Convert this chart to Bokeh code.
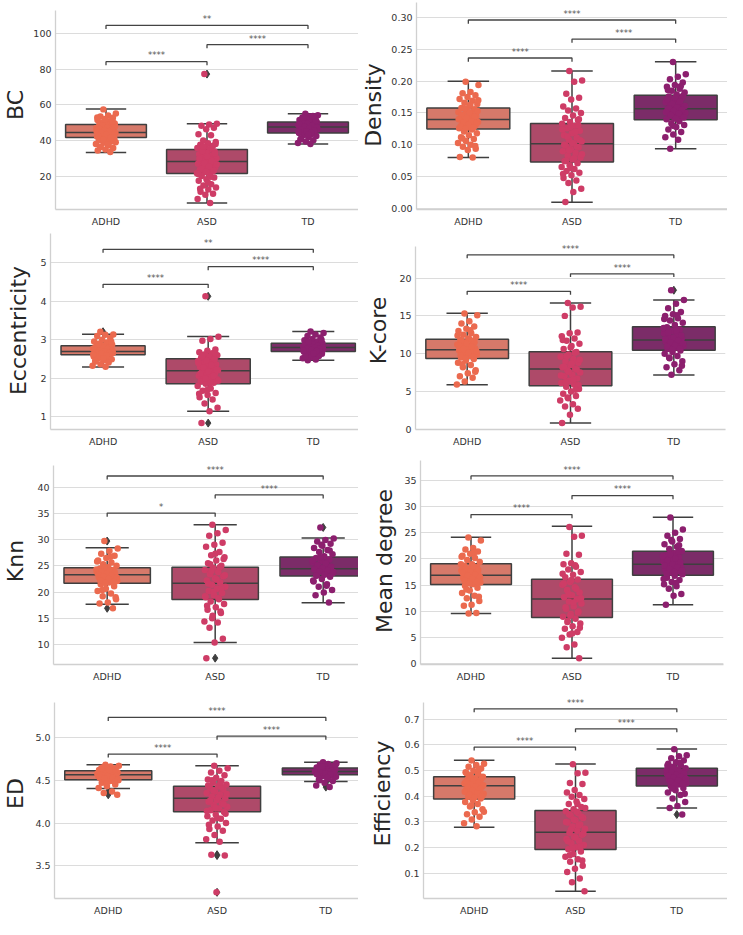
from bokeh.plotting import figure
from bokeh.layouts import row, column
from bokeh.models import FixedTicker, PrintfTickFormatter, Range1d
from bokeh.embed import file_html
from bokeh.resources import INLINE
from bokeh.core.properties import value

# ---------------- data ----------------
GROUPS = ["ADHD", "ASD", "TD"]

# box statistics per group: [lower whisker, Q1, median, Q3, upper whisker]
BC_BOX = [[33.3, 41.7, 44.5, 49.0, 57.7], [5.0, 21.5, 28.2, 35.0, 49.5], [38.0, 44.3, 47.6, 50.4, 55.1]]
BC_ADHD = [57.5, 55.2, 54.0, 53.5, 52.8, 52.1, 51.5, 50.9, 50.2, 49.6, 49.1, 48.7, 48.2, 47.6, 47.1, 46.7, 46.2, 45.8, 45.4, 45.0, 44.7, 44.5, 44.2, 43.8, 43.4, 43.0, 42.7, 42.3, 42.0, 41.7, 41.3, 40.8, 40.2, 39.5, 38.8, 38.0, 37.2, 36.5, 35.8, 35.0, 34.4, 33.6,
           48.5, 47.9, 47.3, 46.5, 46.0, 45.6, 45.2, 44.9, 44.3, 43.6, 43.2, 42.5, 41.9, 40.5, 39.0, 37.8, 36.2, 50.5, 51.8, 53.0]
BC_ASD = [77.3, 49.4, 49.0, 48.3, 47.2, 46.4, 43.6, 43.0, 40.1, 39.2, 38.5, 37.6, 37.0, 36.4, 35.8, 35.2, 34.5, 33.8, 33.0, 32.3, 31.6, 30.8, 30.1, 29.5, 28.8, 28.2, 27.6, 27.0, 26.3, 25.7, 25.0, 24.3, 23.6, 22.9, 22.2, 21.6, 20.9, 20.1, 19.2, 18.3, 17.4, 15.5, 14.8, 13.6, 12.5, 11.2, 10.1, 9.6, 7.2, 5.0,
          34.0, 32.7, 31.2, 29.8, 28.5, 27.3, 26.7, 25.3, 24.0, 23.0, 22.5, 21.2, 19.7, 36.8, 38.0, 16.5, 13.0]
BC_TD = [55.0, 54.2, 53.5, 53.0, 52.5, 52.0, 51.6, 51.2, 50.8, 50.4, 50.1, 49.8, 49.5, 49.1, 48.8, 48.5, 48.1, 47.8, 47.5, 47.2, 46.9, 46.5, 46.2, 45.8, 45.4, 45.0, 44.6, 44.2, 43.7, 43.1, 42.5, 41.8, 41.0, 40.2, 39.4, 38.6, 38.0,
         50.6, 49.9, 49.3, 48.9, 48.3, 47.7, 47.3, 46.7, 46.0, 45.6, 45.2, 44.8, 44.4, 52.8, 51.4, 43.4, 40.6, 53.8]
BC_SIG = ["****", "****", "**"]
BC_TICKS = [20, 40, 60, 80, 100]

DENS_BOX = [[0.080, 0.125, 0.1397, 0.158, 0.1997], [0.0099, 0.073, 0.1017, 0.1335, 0.216], [0.0939, 0.1393, 0.1565, 0.1778, 0.2305]]
DENS_ADHD = [0.199, 0.194, 0.183, 0.181, 0.178, 0.175, 0.172, 0.169, 0.166, 0.164, 0.161, 0.158, 0.156, 0.154, 0.151, 0.149, 0.147, 0.145, 0.143, 0.141, 0.139, 0.138, 0.136, 0.134, 0.132, 0.130, 0.128, 0.126, 0.124, 0.121, 0.118, 0.115, 0.112, 0.109, 0.106, 0.103, 0.100, 0.097, 0.094, 0.092, 0.081, 0.080,
             0.157, 0.153, 0.150, 0.146, 0.144, 0.142, 0.140, 0.137, 0.135, 0.133, 0.131, 0.129, 0.127, 0.125, 0.170, 0.163, 0.110, 0.098]
DENS_ASD = [0.216, 0.201, 0.199, 0.180, 0.174, 0.171, 0.160, 0.157, 0.154, 0.150, 0.146, 0.142, 0.139, 0.136, 0.133, 0.130, 0.126, 0.122, 0.118, 0.115, 0.111, 0.108, 0.105, 0.102, 0.099, 0.096, 0.093, 0.090, 0.087, 0.083, 0.080, 0.077, 0.074, 0.071, 0.068, 0.065, 0.062, 0.059, 0.056, 0.052, 0.048, 0.044, 0.040, 0.031, 0.026, 0.010,
            0.131, 0.128, 0.124, 0.120, 0.113, 0.107, 0.103, 0.100, 0.097, 0.091, 0.085, 0.079, 0.075, 0.140, 0.063, 0.054]
DENS_TD = [0.230, 0.211, 0.207, 0.203, 0.198, 0.194, 0.191, 0.188, 0.185, 0.182, 0.179, 0.176, 0.173, 0.170, 0.167, 0.165, 0.162, 0.160, 0.158, 0.156, 0.154, 0.152, 0.150, 0.148, 0.146, 0.144, 0.142, 0.140, 0.137, 0.134, 0.131, 0.128, 0.124, 0.120, 0.116, 0.112, 0.108, 0.094,
           0.177, 0.174, 0.171, 0.168, 0.164, 0.161, 0.159, 0.157, 0.155, 0.153, 0.151, 0.149, 0.147, 0.143, 0.141, 0.186, 0.192, 0.130]
DENS_SIG = ["****", "****", "****"]
DENS_TICKS = [0.0, 0.05, 0.10, 0.15, 0.20, 0.25, 0.30]

ECC_BOX = [[2.293, 2.614, 2.70, 2.846, 3.146], [1.147, 1.864, 2.20, 2.51, 3.087], [2.47, 2.70, 2.80, 2.914, 3.22]]
ECC_ADHD = [3.21, 3.14, 3.13, 3.10, 3.05, 3.00, 2.96, 2.93, 2.90, 2.87, 2.85, 2.83, 2.81, 2.79, 2.77, 2.75, 2.74, 2.72, 2.71, 2.70, 2.69, 2.67, 2.66, 2.64, 2.63, 2.61, 2.59, 2.57, 2.55, 2.53, 2.50, 2.47, 2.44, 2.41, 2.37, 2.33, 2.30,
            2.84, 2.82, 2.80, 2.78, 2.76, 2.73, 2.72, 2.70, 2.68, 2.66, 2.65, 2.62, 2.60, 2.89, 2.95, 2.52, 2.45]
ECC_ASD = [4.13, 3.08, 3.02, 2.98, 2.75, 2.72, 2.68, 2.65, 2.62, 2.60, 2.57, 2.54, 2.51, 2.48, 2.45, 2.42, 2.39, 2.36, 2.33, 2.30, 2.27, 2.24, 2.21, 2.19, 2.16, 2.13, 2.10, 2.07, 2.04, 2.01, 1.98, 1.95, 1.92, 1.89, 1.86, 1.80, 1.74, 1.68, 1.62, 1.57, 1.51, 1.45, 1.35, 1.24, 1.15, 0.84,
           2.50, 2.46, 2.40, 2.35, 2.28, 2.22, 2.18, 2.12, 2.06, 2.00, 1.94, 1.88, 2.58, 2.66, 1.70, 1.60]
ECC_TD = [3.22, 3.18, 3.14, 3.10, 3.06, 3.02, 2.99, 2.96, 2.93, 2.91, 2.89, 2.87, 2.85, 2.84, 2.83, 2.82, 2.81, 2.80, 2.79, 2.78, 2.77, 2.76, 2.75, 2.74, 2.73, 2.72, 2.70, 2.69, 2.68, 2.66, 2.64, 2.62, 2.61, 2.58, 2.55, 2.52, 2.49, 2.47,
          2.90, 2.88, 2.86, 2.84, 2.82, 2.80, 2.79, 2.77, 2.76, 2.74, 2.72, 2.71, 2.95, 3.00, 2.65, 2.57]
ECC_SIG = ["****", "****", "**"]
ECC_TICKS = [1, 2, 3, 4, 5]

KCORE_BOX = [[5.87, 9.36, 10.5, 11.9, 15.36], [0.8, 5.73, 7.97, 10.24, 16.7], [7.17, 10.46, 11.8, 13.56, 17.1]]
KCORE_ADHD = [15.3, 15.1, 14.3, 14.0, 13.6, 13.3, 13.0, 12.7, 12.5, 12.2, 12.0, 11.8, 11.6, 11.4, 11.2, 11.0, 10.8, 10.7, 10.5, 10.4, 10.2, 10.0, 9.9, 9.7, 9.5, 9.3, 9.1, 8.8, 8.5, 8.2, 7.8, 7.4, 7.0, 6.8, 6.3, 5.9,
              11.9, 11.7, 11.5, 11.3, 11.1, 10.9, 10.6, 10.3, 10.1, 9.8, 9.6, 9.4, 12.4, 13.1, 8.6, 7.6]
KCORE_ASD = [16.7, 16.2, 16.1, 15.0, 12.8, 12.7, 12.3, 12.0, 11.7, 11.3, 11.0, 10.6, 10.2, 9.9, 9.6, 9.3, 9.0, 8.8, 8.5, 8.2, 8.0, 7.8, 7.5, 7.2, 7.0, 6.7, 6.4, 6.1, 5.9, 5.6, 5.3, 5.0, 4.7, 4.4, 4.1, 3.8, 3.3, 3.0, 2.7, 1.9, 0.8,
             10.1, 9.7, 9.2, 8.7, 8.3, 7.9, 7.6, 7.1, 6.6, 6.2, 5.8, 10.8, 11.8, 5.2, 4.2]
KCORE_TD = [18.4, 17.1, 16.6, 16.0, 15.5, 15.2, 15.0, 14.7, 14.4, 14.1, 13.8, 13.5, 13.2, 13.0, 12.7, 12.5, 12.2, 12.0, 11.8, 11.6, 11.4, 11.2, 11.0, 10.8, 10.6, 10.4, 10.2, 10.0, 9.7, 9.4, 9.0, 8.6, 8.2, 7.8, 7.2,
            13.4, 13.1, 12.8, 12.4, 12.1, 11.9, 11.7, 11.5, 11.3, 11.1, 10.9, 10.7, 10.5, 14.6, 15.1, 9.5, 8.4]
KCORE_SIG = ["****", "****", "****"]
KCORE_TICKS = [0, 5, 10, 15, 20]

KNN_BOX = [[17.69, 21.69, 23.27, 24.6, 28.43], [10.4, 18.58, 21.69, 24.74, 32.8], [17.94, 23.03, 24.42, 26.65, 30.27]]
KNN_ADHD = [29.7, 28.3, 27.8, 27.3, 26.9, 26.5, 26.0, 25.6, 25.3, 25.0, 24.7, 24.5, 24.2, 24.0, 23.8, 23.6, 23.4, 23.2, 23.0, 22.8, 22.6, 22.4, 22.1, 21.8, 21.5, 21.1, 20.6, 20.2, 19.7, 19.2, 18.6, 18.0, 17.8, 16.9,
            24.6, 24.3, 24.1, 23.9, 23.7, 23.5, 23.3, 23.1, 22.9, 22.7, 22.5, 22.2, 21.9, 21.7, 25.8, 26.7, 20.4, 19.0]
KNN_ASD = [32.8, 31.8, 31.2, 30.7, 29.4, 29.0, 28.6, 27.6, 27.0, 26.6, 26.0, 25.5, 25.0, 24.6, 24.2, 23.8, 23.4, 23.0, 22.6, 22.2, 21.8, 21.4, 21.0, 20.6, 20.2, 19.8, 19.4, 19.0, 18.6, 18.2, 17.7, 17.1, 16.6, 16.0, 15.5, 14.4, 14.2, 13.2, 11.1, 10.4, 7.4,
           24.7, 24.0, 23.2, 22.4, 21.6, 20.8, 20.0, 19.2, 18.8, 25.3, 26.3, 27.3, 17.4, 16.3, 15.0]
KNN_TD = [32.3, 30.2, 29.9, 29.6, 29.2, 28.8, 28.4, 28.0, 27.6, 27.2, 26.8, 26.5, 26.2, 25.9, 25.6, 25.3, 25.0, 24.8, 24.6, 24.4, 24.2, 24.0, 23.8, 23.5, 23.2, 22.9, 22.5, 22.0, 21.5, 21.0, 20.4, 19.9, 19.4, 18.0,
          26.6, 26.0, 25.5, 25.1, 24.7, 24.5, 24.3, 24.1, 23.9, 23.6, 23.3, 23.1, 27.9, 29.0, 22.2, 21.2]
KNN_SIG = ["*", "****", "****"]
KNN_TICKS = [10, 15, 20, 25, 30, 35, 40]

MDEG_BOX = [[9.6, 15.13, 16.87, 19.07, 24.13], [1.1, 8.87, 12.37, 16.12, 26.2], [11.3, 16.87, 19.0, 21.44, 27.94]]
MDEG_ADHD = [24.1, 23.5, 22.1, 21.8, 21.4, 21.0, 20.6, 20.2, 19.8, 19.4, 19.0, 18.7, 18.4, 18.1, 17.8, 17.5, 17.2, 16.9, 16.7, 16.4, 16.1, 15.8, 15.5, 15.2, 14.9, 14.5, 14.0, 13.5, 13.0, 12.5, 12.0, 11.3, 11.1, 9.7, 9.6,
             19.0, 18.6, 18.2, 17.9, 17.6, 17.3, 17.0, 16.8, 16.5, 16.2, 15.9, 15.6, 15.3, 20.4, 21.2, 14.2, 12.8]
MDEG_ASD = [26.1, 24.4, 24.2, 21.0, 20.8, 19.2, 19.0, 18.5, 18.0, 17.5, 17.0, 16.5, 16.1, 15.6, 15.1, 14.6, 14.1, 13.6, 13.1, 12.7, 12.3, 11.9, 11.5, 11.0, 10.5, 10.0, 9.5, 9.0, 8.6, 8.2, 7.7, 7.2, 6.7, 6.1, 5.6, 5.0, 3.7, 3.2, 1.1,
            16.0, 15.3, 14.3, 13.3, 12.5, 11.7, 10.8, 9.8, 9.2, 17.2, 18.8, 8.0, 6.9, 5.8]
MDEG_TD = [27.9, 25.6, 25.0, 24.4, 23.8, 23.3, 22.8, 22.3, 21.9, 21.5, 21.1, 20.7, 20.3, 19.9, 19.5, 19.2, 18.9, 18.6, 18.3, 18.0, 17.7, 17.4, 17.1, 16.8, 16.4, 16.0, 15.6, 15.2, 14.8, 14.3, 13.3, 13.0, 11.3,
           21.4, 20.9, 20.5, 20.1, 19.7, 19.3, 19.0, 18.7, 18.4, 18.1, 17.8, 17.5, 17.2, 22.6, 23.6, 16.2, 15.4]
MDEG_SIG = ["****", "****", "****"]
MDEG_TICKS = [0, 5, 10, 15, 20, 25, 30, 35]

ED_BOX = [[4.405, 4.505, 4.564, 4.61, 4.68], [3.769, 4.131, 4.291, 4.43, 4.67], [4.486, 4.564, 4.603, 4.642, 4.71]]
ED_ADHD = [4.68, 4.67, 4.66, 4.65, 4.64, 4.63, 4.62, 4.61, 4.60, 4.59, 4.59, 4.58, 4.57, 4.57, 4.56, 4.56, 4.55, 4.54, 4.54, 4.53, 4.52, 4.51, 4.50, 4.49, 4.47, 4.45, 4.43, 4.41, 4.37, 4.35, 4.33,
           4.61, 4.60, 4.59, 4.58, 4.58, 4.57, 4.56, 4.55, 4.55, 4.54, 4.53, 4.52, 4.51, 4.62, 4.64, 4.48, 4.46]
ED_ASD = [4.67, 4.64, 4.61, 4.59, 4.56, 4.53, 4.51, 4.49, 4.47, 4.45, 4.43, 4.41, 4.39, 4.37, 4.35, 4.33, 4.31, 4.29, 4.27, 4.25, 4.23, 4.21, 4.19, 4.17, 4.15, 4.13, 4.10, 4.08, 4.05, 4.03, 4.00, 3.96, 3.93, 3.91, 3.86, 3.81, 3.78, 3.63, 3.62, 3.19,
          4.44, 4.42, 4.38, 4.34, 4.30, 4.26, 4.22, 4.18, 4.14, 4.47, 4.50, 4.11, 4.06, 3.98]
ED_TD = [4.71, 4.70, 4.69, 4.68, 4.67, 4.66, 4.65, 4.64, 4.64, 4.63, 4.62, 4.62, 4.61, 4.61, 4.60, 4.60, 4.59, 4.58, 4.58, 4.57, 4.56, 4.55, 4.54, 4.52, 4.50, 4.49, 4.47, 4.44, 4.42,
         4.64, 4.63, 4.63, 4.62, 4.61, 4.61, 4.60, 4.60, 4.59, 4.59, 4.58, 4.57, 4.57, 4.66, 4.68, 4.53, 4.51]
ED_SIG = ["****", "****", "****"]
ED_TICKS = [3.5, 4.0, 4.5, 5.0]

EFF_BOX = [[0.2796, 0.390, 0.4416, 0.476, 0.541], [0.030, 0.193, 0.2605, 0.3446, 0.5257], [0.355, 0.440, 0.4798, 0.509, 0.584]]
EFF_ADHD = [0.540, 0.527, 0.522, 0.515, 0.508, 0.500, 0.494, 0.488, 0.482, 0.476, 0.470, 0.465, 0.460, 0.455, 0.450, 0.445, 0.441, 0.437, 0.432, 0.427, 0.422, 0.416, 0.410, 0.404, 0.398, 0.392, 0.386, 0.378, 0.370, 0.360, 0.350, 0.338, 0.330, 0.320, 0.310, 0.295, 0.283,
            0.475, 0.468, 0.462, 0.457, 0.452, 0.447, 0.443, 0.439, 0.434, 0.429, 0.424, 0.418, 0.412, 0.406, 0.400, 0.395, 0.490, 0.505, 0.365, 0.340]
EFF_ASD = [0.525, 0.492, 0.490, 0.452, 0.448, 0.425, 0.415, 0.405, 0.398, 0.390, 0.380, 0.370, 0.358, 0.350, 0.342, 0.334, 0.325, 0.316, 0.307, 0.298, 0.290, 0.282, 0.274, 0.266, 0.258, 0.250, 0.242, 0.234, 0.226, 0.218, 0.210, 0.202, 0.194, 0.185, 0.175, 0.165, 0.155, 0.145, 0.130, 0.118, 0.105, 0.080, 0.065, 0.030,
           0.340, 0.330, 0.320, 0.310, 0.300, 0.286, 0.270, 0.255, 0.240, 0.225, 0.205, 0.198, 0.355, 0.370, 0.170, 0.150]
EFF_TD = [0.583, 0.560, 0.556, 0.548, 0.540, 0.533, 0.527, 0.521, 0.515, 0.509, 0.504, 0.499, 0.494, 0.490, 0.486, 0.482, 0.478, 0.474, 0.470, 0.466, 0.461, 0.456, 0.451, 0.446, 0.440, 0.432, 0.424, 0.415, 0.405, 0.392, 0.378, 0.362, 0.355, 0.329,
          0.507, 0.502, 0.497, 0.492, 0.488, 0.484, 0.480, 0.476, 0.472, 0.468, 0.463, 0.458, 0.450, 0.444, 0.520, 0.530, 0.430, 0.410]
EFF_SIG = ["****", "****", "****"]
EFF_TICKS = [0.1, 0.2, 0.3, 0.4, 0.5, 0.6, 0.7]

PAIRS = [(0, 1), (1, 2), (0, 2)]

METRICS = [
    ("BC", [BC_ADHD, BC_ASD, BC_TD], BC_BOX, BC_SIG, BC_TICKS, "%d"),
    ("Density", [DENS_ADHD, DENS_ASD, DENS_TD], DENS_BOX, DENS_SIG, DENS_TICKS, "%.2f"),
    ("Eccentricity", [ECC_ADHD, ECC_ASD, ECC_TD], ECC_BOX, ECC_SIG, ECC_TICKS, "%d"),
    ("K-core", [KCORE_ADHD, KCORE_ASD, KCORE_TD], KCORE_BOX, KCORE_SIG, KCORE_TICKS, "%d"),
    ("Knn", [KNN_ADHD, KNN_ASD, KNN_TD], KNN_BOX, KNN_SIG, KNN_TICKS, "%d"),
    ("Mean degree", [MDEG_ADHD, MDEG_ASD, MDEG_TD], MDEG_BOX, MDEG_SIG, MDEG_TICKS, "%d"),
    ("ED", [ED_ADHD, ED_ASD, ED_TD], ED_BOX, ED_SIG, ED_TICKS, "%.1f"),
    ("Efficiency", [EFF_ADHD, EFF_ASD, EFF_TD], EFF_BOX, EFF_SIG, EFF_TICKS, "%.1f"),
]

# ---------------- layout / style ----------------
POINT_COLORS = ["#EB6A4F", "#CE3C66", "#8C1F6E"]
BOX_COLORS = ["#D6796A", "#AE4A69", "#7B2C68"]
DARK = "#3F3F3F"
FONT = "DejaVu Sans"

# l/r/t/b: frame borders in px; y: visible axis range; s: axis-label standoff
PANELS = [
    dict(w=358, h=231, l=50, r=0, t=10, b=22, x=(-0.5, 2.5), y=(1.3, 113.0), s=2, br=[84.3, 93.8, 104.6]),
    dict(w=369, h=231, l=53, r=0, t=2, b=22, x=(-0.5, 2.5), y=(-0.0016, 0.3235), s=2, br=[0.2363, 0.266, 0.296]),
    dict(w=358, h=226, l=50, r=0, t=2, b=28, x=(-0.5, 2.43), y=(0.674, 5.76), s=6, br=[4.44, 4.90, 5.35]),
    dict(w=369, h=226, l=57, r=2, t=15, b=27, x=(-0.5, 2.5), y=(-0.05, 24.2), s=5, br=[18.25, 20.57, 23.07]),
    dict(w=358, h=231, l=48, r=0, t=8, b=24, x=(-0.497, 2.327), y=(6.19, 44.1), s=6, br=[35.04, 38.5, 42.1]),
    dict(w=369, h=231, l=62, r=4, t=3, b=21, x=(-0.5, 2.5), y=(-0.1, 38.75), s=4, br=[28.44, 32.06, 35.8]),
    dict(w=358, h=231, l=48, r=0, t=14, b=21, x=(-0.494, 2.30), y=(3.118, 5.409), s=4, br=[4.806, 5.016, 5.234]),
    dict(w=369, h=231, l=65, r=0, t=14, b=17, x=(-0.5, 2.5), y=(0.002, 0.7665), s=6, br=[0.5918, 0.663, 0.741]),
]


def jitter(n):
    return [((i * 0.6180339887 + 0.37) % 1.0 - 0.5) * 0.2 for i in range(n)]


def make_panel(metric, cfg):
    name, values, box, sig, ticks, fmt = metric
    y0, y1 = cfg["y"]
    fh = cfg["h"] - cfg["t"] - cfg["b"]
    y1_ext = y1 + cfg["t"] * (y1 - y0) / fh  # extend frame up so annotations never clip
    p = figure(width=cfg["w"], height=cfg["h"], output_backend="svg", toolbar_location=None,
               x_range=Range1d(*cfg["x"]), y_range=Range1d(y0, y1_ext),
               min_border_left=cfg["l"], min_border_right=cfg["r"],
               min_border_top=0, min_border_bottom=cfg["b"])
    p.outline_line_color = None
    p.background_fill_color = "white"
    p.border_fill_color = "white"
    p.xgrid.visible = False
    p.ygrid.ticker = FixedTicker(ticks=ticks)
    p.ygrid.grid_line_color = "#DCDCDC"
    p.ygrid.grid_line_width = 1

    p.xaxis.ticker = FixedTicker(ticks=[0, 1, 2])
    p.xaxis.major_label_overrides = {i: g for i, g in enumerate(GROUPS)}
    p.yaxis.ticker = FixedTicker(ticks=ticks)
    p.yaxis.formatter = PrintfTickFormatter(format=fmt)
    p.yaxis.bounds = (y0, y1)
    p.yaxis.axis_label = name
    p.yaxis.axis_label_text_font = FONT
    p.yaxis.axis_label_text_font_size = "22px"
    p.yaxis.axis_label_text_font_style = "normal"
    p.yaxis.axis_label_text_color = "#262626"
    p.yaxis.axis_label_standoff = cfg["s"]
    for ax in (p.xaxis[0], p.yaxis[0]):
        ax.axis_line_color = "#D0D0D0"
        ax.axis_line_width = 1.3
        ax.major_tick_line_color = None
        ax.minor_tick_line_color = None
        ax.major_tick_out = 0
        ax.major_tick_in = 0
        ax.major_label_text_font = FONT
        ax.major_label_text_font_size = "9.5px"
        ax.major_label_text_color = "#333333"
        ax.major_label_standoff = 4
    p.xaxis.major_label_standoff = 6

    xs = [0, 1, 2]
    # boxes
    p.quad(left=[i - 0.4 for i in xs], right=[i + 0.4 for i in xs],
           bottom=[b[1] for b in box], top=[b[3] for b in box],
           fill_color=BOX_COLORS, line_color=DARK, line_width=1.5)
    # whiskers
    p.segment(x0=xs + xs, y0=[b[3] for b in box] + [b[1] for b in box],
              x1=xs + xs, y1=[b[4] for b in box] + [b[0] for b in box],
              line_color=DARK, line_width=1.5)
    # caps
    p.segment(x0=[i - 0.2 for i in xs] * 2, y0=[b[4] for b in box] + [b[0] for b in box],
              x1=[i + 0.2 for i in xs] * 2, y1=[b[4] for b in box] + [b[0] for b in box],
              line_color=DARK, line_width=1.5)
    # medians
    p.segment(x0=[i - 0.4 for i in xs], y0=[b[2] for b in box],
              x1=[i + 0.4 for i in xs], y1=[b[2] for b in box],
              line_color=DARK, line_width=1.5)
    # fliers
    fx, fy = [], []
    for i, (vals, b) in enumerate(zip(values, box)):
        for v in vals:
            if v > b[4] + 1e-9 or v < b[0] - 1e-9:
                fx.append(i)
                fy.append(v)
    if fx:
        p.scatter(fx, fy, marker="diamond", size=8, fill_color=DARK, line_color=DARK)
    # strip points
    for i, vals in enumerate(values):
        jit = jitter(len(vals))
        p.scatter([i + j for j in jit], vals, marker="circle", size=6.5,
                  fill_color=POINT_COLORS[i], line_color=None)

    # significance brackets
    yr = y1 - y0
    tick = 0.018 * yr
    bx, by, tx, ty = [], [], [], []
    for (a, c), lev in zip(PAIRS, cfg["br"]):
        bx.append([a, a, c, c])
        by.append([lev - tick, lev, lev, lev - tick])
        tx.append((a + c) / 2)
        ty.append(lev + 0.006 * yr)
    p.multi_line(bx, by, line_color="#444444", line_width=1.3)
    p.text(tx, ty, text=sig, text_font=value(FONT), text_font_size="8.5px",
           text_color="#555555", text_align="center", text_baseline="bottom")
    return p


figs = [make_panel(m, c) for m, c in zip(METRICS, PANELS)]
layout = column(row(figs[0], figs[1]), row(figs[2], figs[3]),
                row(figs[4], figs[5]), row(figs[6], figs[7]))

open("out.html", "w").write(file_html(layout, INLINE))
